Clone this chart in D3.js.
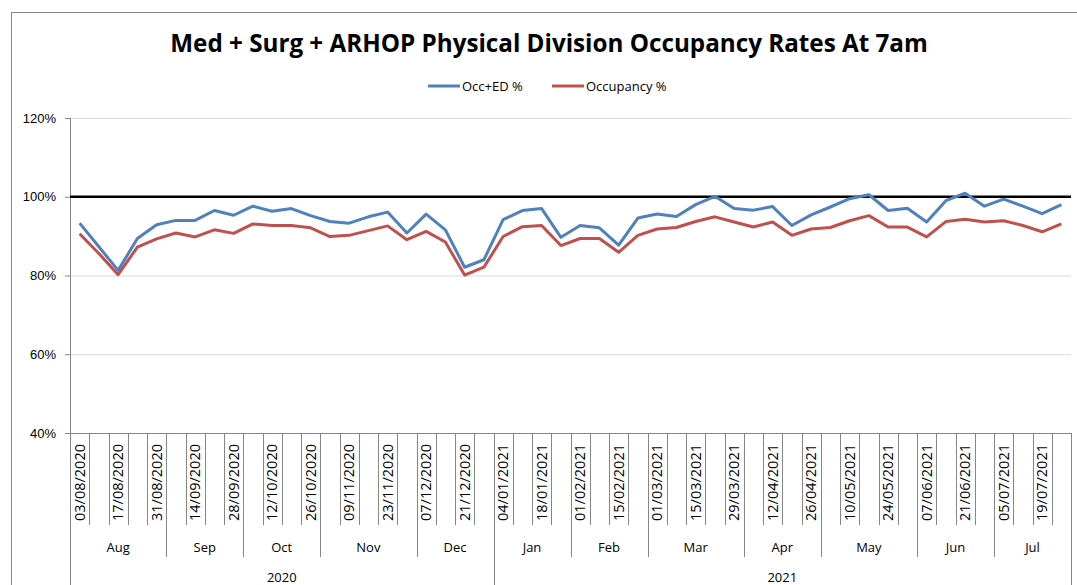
<!DOCTYPE html>
<html>
<head>
<meta charset="utf-8">
<style>
body { margin: 0; background: #fff; }
svg { font-family: "Open Sans", sans-serif; }
.grid line { stroke: #d9d9d9; }
.grid path { display: none; }
.axis--y path { display: none; }
.axis--y line { stroke: #868686; }
.axis text { fill: #000; }
.sep { stroke: #868686; stroke-width: 1; }
.series { fill: none; stroke-width: 3px; stroke-linejoin: round; }
</style>
<script src="https://d3js.org/d3.v7.min.js"></script>
</head>
<body>
<svg width="1077" height="585"></svg>
<script>

var weeks = ["03/08/2020","10/08/2020","17/08/2020","24/08/2020","31/08/2020",
  "07/09/2020","14/09/2020","21/09/2020","28/09/2020",
  "05/10/2020","12/10/2020","19/10/2020","26/10/2020",
  "02/11/2020","09/11/2020","16/11/2020","23/11/2020","30/11/2020",
  "07/12/2020","14/12/2020","21/12/2020","28/12/2020",
  "04/01/2021","11/01/2021","18/01/2021","25/01/2021",
  "01/02/2021","08/02/2021","15/02/2021","22/02/2021",
  "01/03/2021","08/03/2021","15/03/2021","22/03/2021","29/03/2021",
  "05/04/2021","12/04/2021","19/04/2021","26/04/2021",
  "03/05/2021","10/05/2021","17/05/2021","24/05/2021","31/05/2021",
  "07/06/2021","14/06/2021","21/06/2021","28/06/2021",
  "05/07/2021","12/07/2021","19/07/2021","26/07/2021"];

var occEd = [93.3, 87.3, 81.3, 89.4, 92.9, 94.0, 94.0, 96.5, 95.3, 97.6,
  96.3, 97.0, 95.2, 93.7, 93.3, 94.9, 96.1, 90.8, 95.6, 91.6,
  82.1, 84.0, 94.2, 96.5, 97.0, 89.7, 92.7, 92.1, 87.7, 94.6,
  95.6, 95.0, 98.0, 100.1, 97.0, 96.6, 97.5, 92.7, 95.4, 97.4,
  99.5, 100.5, 96.5, 97.1, 93.6, 99.0, 100.9, 97.6, 99.4, 97.6,
  95.7, 98.0];

var occupancy = [90.6, 85.6, 80.2, 87.2, 89.3, 90.8, 89.8, 91.6, 90.7, 93.1,
  92.7, 92.7, 92.1, 89.9, 90.2, 91.4, 92.6, 89.1, 91.2, 88.5,
  80.1, 82.1, 89.9, 92.4, 92.7, 87.6, 89.4, 89.4, 85.9, 90.2,
  91.8, 92.2, 93.7, 94.9, 93.6, 92.3, 93.6, 90.2, 91.8, 92.2,
  93.9, 95.2, 92.3, 92.3, 89.8, 93.7, 94.3, 93.6, 93.9, 92.7,
  91.1, 93.1];

var target = 100;
var yTicks = [40, 60, 80, 100, 120];
var seriesNames = ["Occ+ED %", "Occupancy %"];
var seriesColors = ["#4f81bd", "#c0504d"];
var title = "Med + Surg + ARHOP Physical Division Occupancy Rates At 7am";

var svg = d3.select("svg"),
    plotL = 70, plotR = 1071, plotT = 118, plotB = 433;

var parse = d3.timeParse("%d/%m/%Y"),
    fmtMonth = d3.timeFormat("%b"),
    fmtYear = d3.timeFormat("%Y");

var x = d3.scaleBand().domain(weeks).range([plotL, plotR]).padding(0);
var y = d3.scaleLinear().domain([40, 120]).range([plotB, plotT]);

// chart border
svg.append("rect")
    .attr("x", 11.5).attr("y", 12.5)
    .attr("width", 1080).attr("height", 600)
    .attr("fill", "none").attr("stroke", "#888");

// title, fitted to the reference width
var t = svg.append("text")
    .attr("x", 549).attr("y", 52)
    .attr("text-anchor", "middle")
    .style("font-weight", "bold")
    .style("font-size", "24px")
    .text(title);
var tw = t.node().getComputedTextLength();
t.style("font-size", (24 * 758 / tw) + "px");

// legend
var legend = svg.append("g").selectAll("g")
    .data(seriesNames)
    .enter().append("g")
      .attr("transform", function(d, i) { return "translate(" + [428, 552][i] + ",86)"; });
legend.append("line")
    .attr("x1", 0).attr("x2", 32)
    .attr("stroke", function(d, i) { return seriesColors[i]; })
    .attr("stroke-width", 3);
legend.append("text")
    .attr("x", 34).attr("dy", "0.35em")
    .style("font-size", "13px")
    .text(function(d) { return d; });

// gridlines
svg.append("g")
    .attr("class", "grid")
    .attr("transform", "translate(" + plotL + ",0)")
    .call(d3.axisLeft(y).tickValues(yTicks).tickSize(-(plotR - plotL)).tickFormat(""));

// y axis
svg.append("g")
    .attr("class", "axis axis--y")
    .attr("transform", "translate(" + plotL + ",0)")
    .call(d3.axisLeft(y).tickValues(yTicks).tickSize(5).tickPadding(9)
      .tickFormat(function(d) { return d + "%"; }))
    .selectAll("text").style("font-size", "13px");

svg.append("line").attr("class", "sep")
    .attr("x1", plotL + 0.5).attr("x2", plotL + 0.5)
    .attr("y1", plotT).attr("y2", 585);
svg.append("line").attr("class", "sep")
    .attr("x1", plotL).attr("x2", plotR)
    .attr("y1", plotB + 0.5).attr("y2", plotB + 0.5);

// category boundaries: weeks, months, years
var step = x.step();
var bounds = d3.range(weeks.length + 1);
svg.append("g").selectAll("line")
    .data(bounds)
    .enter().append("line")
      .attr("class", "sep")
      .attr("x1", function(i) { return Math.round(plotL + i * step) + 0.5; })
      .attr("x2", function(i) { return Math.round(plotL + i * step) + 0.5; })
      .attr("y1", plotB)
      .attr("y2", function(i) {
        if (i === 0 || i === weeks.length) return 585;
        var a = parse(weeks[i - 1]), b = parse(weeks[i]);
        if (fmtYear(a) !== fmtYear(b)) return 585;
        if (fmtMonth(a) !== fmtMonth(b)) return 557;
        return 525;
      });

// week labels every 2nd week
svg.append("g")
    .attr("class", "axis")
    .selectAll("text")
    .data(weeks.filter(function(d, i) { return i % 2 === 0; }))
    .enter().append("text")
      .attr("transform", function(d) { return "translate(" + (x(d) + step / 2) + ",444) rotate(-90)"; })
      .attr("text-anchor", "end")
      .attr("dy", "0.36em")
      .style("font-size", "14.5px")
      .text(function(d) { return d; });

// month and year labels
function groups(fmt) {
  var out = [];
  weeks.forEach(function(w, i) {
    var k = fmt(parse(w)) + fmtYear(parse(w));
    if (!out.length || out[out.length - 1].key !== k) out.push({key: k, label: fmt(parse(w)), start: i, end: i});
    else out[out.length - 1].end = i;
  });
  return out;
}

svg.append("g").selectAll("text")
    .data(groups(fmtMonth))
    .enter().append("text")
      .attr("x", function(d) { return plotL + (d.start + d.end + 1) / 2 * step; })
      .attr("y", 547).attr("dy", "0.35em")
      .attr("text-anchor", "middle")
      .style("font-size", "13px")
      .text(function(d) { return d.label; });

svg.append("g").selectAll("text")
    .data(groups(fmtYear))
    .enter().append("text")
      .attr("x", function(d) { return plotL + (d.start + d.end + 1) / 2 * step; })
      .attr("y", 577).attr("dy", "0.35em")
      .attr("text-anchor", "middle")
      .style("font-size", "13px")
      .text(function(d) { return d.label; });

// target line
svg.append("line")
    .attr("x1", plotL).attr("x2", plotR)
    .attr("y1", y(target)).attr("y2", y(target))
    .attr("stroke", "#000").attr("stroke-width", 2.5);

// series
var line = d3.line()
    .x(function(d, i) { return x(weeks[i]) + step / 2; })
    .y(function(d) { return y(d); });

svg.append("g").selectAll("path")
    .data([occEd, occupancy])
    .enter().append("path")
      .attr("class", "series")
      .attr("stroke", function(d, i) { return seriesColors[i]; })
      .attr("d", line);

</script>
</body>
</html>
